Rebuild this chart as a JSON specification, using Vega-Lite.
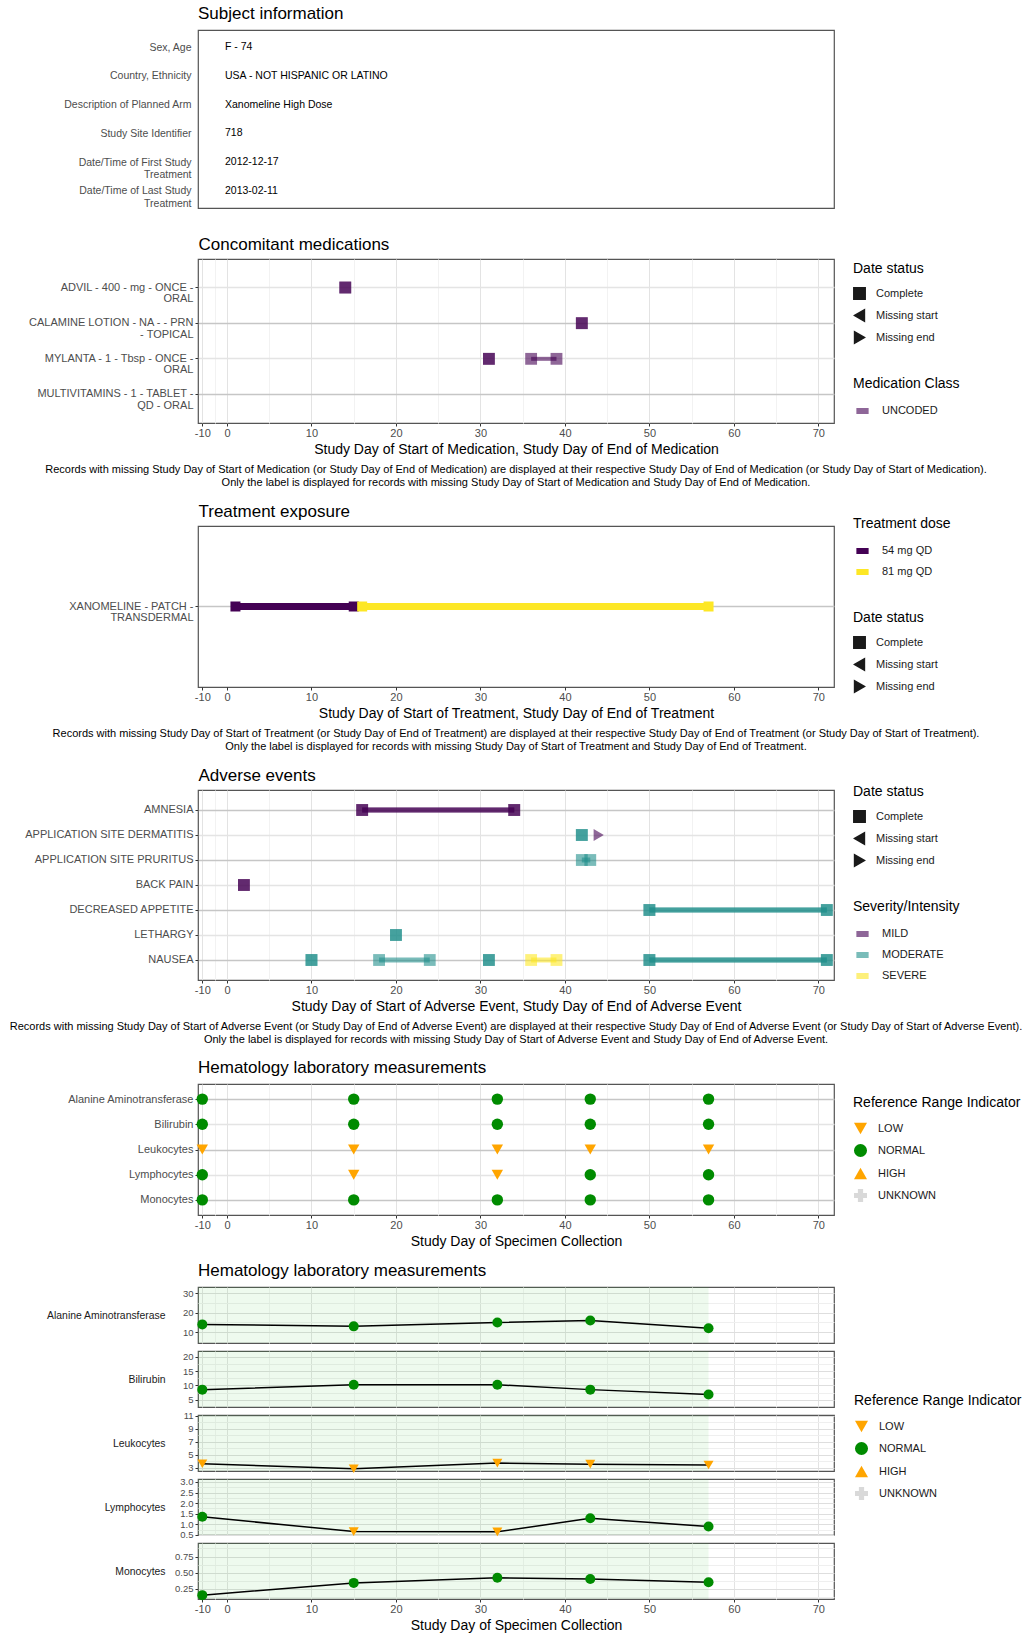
{
"$schema": "https://vega.github.io/schema/vega-lite/v6.json",
"padding": {"left": 5, "top": 4, "right": 0, "bottom": 0},
"spacing": 12,
"config": {
  "font": "Liberation Sans",
  "view": {"stroke": "#555555", "strokeWidth": 1.2},
  "axis": {"labelFontSize": 11, "labelColor": "#4d4d4d", "tickColor": "#333333", "tickSize": 3, "domain": false, "titleFontSize": 14, "titleFontWeight": "normal", "titleColor": "#000000", "gridColor": "#e3e3e3"},
  "title": {"anchor": "start", "frame": "group", "fontSize": 17, "fontWeight": "normal", "offset": 7, "color": "#000000"},
  "legend": {"titleFontSize": 14, "titleFontWeight": "normal", "titleColor": "#000000", "labelFontSize": 11, "labelColor": "#1a1a1a", "offset": 19, "rowPadding": 3, "titlePadding": 11, "labelOffset": 10, "symbolSize": 130, "layout": {"right": {"anchor": "middle", "direction": "vertical", "margin": 30}}}
},
"datasets": {
  "subject": [
    {"label": "Sex, Age", "value": "F - 74"},
    {"label": "Country, Ethnicity", "value": "USA - NOT HISPANIC OR LATINO"},
    {"label": "Description of Planned Arm", "value": "Xanomeline High Dose"},
    {"label": "Study Site Identifier", "value": "718"},
    {"label": "Date/Time of First Study|Treatment", "value": "2012-12-17"},
    {"label": "Date/Time of Last Study|Treatment", "value": "2013-02-11"}
  ],
  "cm": [
    {"med": "ADVIL - 400 - mg - ONCE -|ORAL", "start": 14, "end": 14, "status": "Complete", "class": "UNCODED"},
    {"med": "CALAMINE LOTION - NA - - PRN|- TOPICAL", "start": 42, "end": 42, "status": "Complete", "class": "UNCODED"},
    {"med": "MYLANTA - 1 - Tbsp - ONCE -|ORAL", "start": 31, "end": 31, "status": "Complete", "class": "UNCODED"},
    {"med": "MYLANTA - 1 - Tbsp - ONCE -|ORAL", "start": 36, "end": 39, "status": "Complete", "class": "UNCODED"},
    {"med": "MULTIVITAMINS - 1 - TABLET -|QD - ORAL", "start": null, "end": null, "status": "Complete", "class": "UNCODED"}
  ],
  "trt": [
    {"trt": "XANOMELINE - PATCH -|TRANSDERMAL", "dose": "54 mg QD", "start": 1, "end": 15, "status": "Complete"},
    {"trt": "XANOMELINE - PATCH -|TRANSDERMAL", "dose": "81 mg QD", "start": 16, "end": 57, "status": "Complete"}
  ],
  "ae": [
    {"term": "AMNESIA", "sev": "MILD", "start": 16, "end": 34, "status": "Complete"},
    {"term": "AMNESIA", "sev": "MILD", "start": 16, "end": 34, "status": "Complete"},
    {"term": "APPLICATION SITE DERMATITIS", "sev": "MODERATE", "start": 42, "end": 42, "status": "Complete"},
    {"term": "APPLICATION SITE DERMATITIS", "sev": "MILD", "start": 44, "end": null, "status": "Missing end"},
    {"term": "APPLICATION SITE PRURITUS", "sev": "MODERATE", "start": 42, "end": 43, "status": "Complete"},
    {"term": "BACK PAIN", "sev": "MILD", "start": 2, "end": 2, "status": "Complete"},
    {"term": "DECREASED APPETITE", "sev": "MODERATE", "start": 50, "end": 71, "status": "Complete"},
    {"term": "DECREASED APPETITE", "sev": "MODERATE", "start": 50, "end": 71, "status": "Complete"},
    {"term": "LETHARGY", "sev": "MODERATE", "start": 20, "end": 20, "status": "Complete"},
    {"term": "NAUSEA", "sev": "MODERATE", "start": 10, "end": 10, "status": "Complete"},
    {"term": "NAUSEA", "sev": "MODERATE", "start": 18, "end": 24, "status": "Complete"},
    {"term": "NAUSEA", "sev": "MODERATE", "start": 31, "end": 31, "status": "Complete"},
    {"term": "NAUSEA", "sev": "SEVERE", "start": 36, "end": 39, "status": "Complete"},
    {"term": "NAUSEA", "sev": "MODERATE", "start": 50, "end": 71, "status": "Complete"},
    {"term": "NAUSEA", "sev": "MODERATE", "start": 50, "end": 71, "status": "Complete"}
  ],
  "lab": [
    {"param": "Alanine Aminotransferase", "day": -10, "value": 14, "ind": "NORMAL"},
    {"param": "Alanine Aminotransferase", "day": 15, "value": 13, "ind": "NORMAL"},
    {"param": "Alanine Aminotransferase", "day": 32, "value": 15, "ind": "NORMAL"},
    {"param": "Alanine Aminotransferase", "day": 43, "value": 16, "ind": "NORMAL"},
    {"param": "Alanine Aminotransferase", "day": 57, "value": 12, "ind": "NORMAL"},
    {"param": "Bilirubin", "day": -10, "value": 8.55, "ind": "NORMAL"},
    {"param": "Bilirubin", "day": 15, "value": 10.26, "ind": "NORMAL"},
    {"param": "Bilirubin", "day": 32, "value": 10.26, "ind": "NORMAL"},
    {"param": "Bilirubin", "day": 43, "value": 8.55, "ind": "NORMAL"},
    {"param": "Bilirubin", "day": 57, "value": 6.84, "ind": "NORMAL"},
    {"param": "Leukocytes", "day": -10, "value": 3.62, "ind": "LOW"},
    {"param": "Leukocytes", "day": 15, "value": 2.85, "ind": "LOW"},
    {"param": "Leukocytes", "day": 32, "value": 3.72, "ind": "LOW"},
    {"param": "Leukocytes", "day": 43, "value": 3.55, "ind": "LOW"},
    {"param": "Leukocytes", "day": 57, "value": 3.42, "ind": "LOW"},
    {"param": "Lymphocytes", "day": -10, "value": 1.35, "ind": "NORMAL"},
    {"param": "Lymphocytes", "day": 15, "value": 0.65, "ind": "LOW"},
    {"param": "Lymphocytes", "day": 32, "value": 0.64, "ind": "LOW"},
    {"param": "Lymphocytes", "day": 43, "value": 1.28, "ind": "NORMAL"},
    {"param": "Lymphocytes", "day": 57, "value": 0.89, "ind": "NORMAL"},
    {"param": "Monocytes", "day": -10, "value": 0.15, "ind": "NORMAL"},
    {"param": "Monocytes", "day": 15, "value": 0.34, "ind": "NORMAL"},
    {"param": "Monocytes", "day": 32, "value": 0.42, "ind": "NORMAL"},
    {"param": "Monocytes", "day": 43, "value": 0.40, "ind": "NORMAL"},
    {"param": "Monocytes", "day": 57, "value": 0.35, "ind": "NORMAL"}
  ]
},
"vconcat": [
  {
    "width": 636, "height": 178,
    "title": {"text": "Subject information"},
    "data": {"name": "subject"},
    "mark": {"type": "text", "align": "left", "baseline": "middle", "fontSize": 10.5, "dx": 27, "color": "#000000"},
    "encoding": {
      "y": {"field": "label", "type": "nominal", "sort": null, "scale": {"padding": 0.6}, "axis": {"title": null, "ticks": false, "grid": false, "labelExpr": "split(datum.label, '|')", "labelFontSize": 10.5, "labelPadding": 7, "labelLineHeight": 12.5, "minExtent": 192, "labelLimit": 300}},
      "x": {"datum": 0, "type": "quantitative", "scale": {"domain": [0, 1]}, "axis": {"title": " ", "labels": false, "ticks": false, "grid": false, "titleFontSize": 10, "titlePadding": 3}},
      "text": {"field": "value", "type": "nominal"}
    }
  },
  {
    "width": 636, "height": 164,
    "data": {"name": "cm"},
    "title": {"text": ["Records with missing Study Day of Start of Medication (or Study Day of End of Medication) are displayed at their respective Study Day of End of Medication (or Study Day of Start of Medication).", "Only the label is displayed for records with missing Study Day of Start of Medication and Study Day of End of Medication."], "orient": "bottom", "anchor": "middle", "fontSize": 11, "offset": 8, "lineHeight": 12.5},
    "layer": [
      {
        "transform": [{"fold": ["start", "end"], "as": ["endpoint", "day"]}],
        "mark": {"type": "point", "filled": true, "size": 140, "opacity": 0.6},
        "encoding": {
          "x": {"field": "day", "type": "quantitative", "scale": {"domain": [-11.74, 0, 71.85], "range": [0, 29, 636], "nice": false, "zero": false},
                "axis": {"values": [-10,-5,0,5,10,15,20,25,30,35,40,45,50,55,60,65,70], "tickCount": 40, "labelExpr": "datum.value % 10 === 0 ? toString(datum.value) : ''", "labelFlush": false, "labelOverlap": false, "gridColor": {"condition": {"test": "datum.value % 10 !== 0", "value": "#f2f2f2"}, "value": "#e3e3e3"}, "tickOpacity": {"condition": {"test": "datum.value % 10 !== 0", "value": 0}, "value": 1}, "labelPadding": 1, "titlePadding": 4, "title": "Study Day of Start of Medication, Study Day of End of Medication"}},
          "y": {"field": "med", "type": "nominal", "scale": {"domain": ["ADVIL - 400 - mg - ONCE -|ORAL", "CALAMINE LOTION - NA - - PRN|- TOPICAL", "MYLANTA - 1 - Tbsp - ONCE -|ORAL", "MULTIVITAMINS - 1 - TABLET -|QD - ORAL"], "padding": 0.6},
                "axis": {"title": null, "labelExpr": "split(datum.label, '|')", "labelLineHeight": 11.5, "labelPadding": 2, "minExtent": 192, "labelLimit": 300, "grid": true, "gridWidth": 1.3, "gridColor": {"condition": {"test": "indexof(['CALAMINE LOTION - NA - - PRN|- TOPICAL', 'MULTIVITAMINS - 1 - TABLET -|QD - ORAL'], datum.value) >= 0", "value": "#c6c6c6"}, "value": "#e4e4e4"}}},
          "shape": {"field": "status", "type": "nominal", "scale": {"domain": ["Complete", "Missing start", "Missing end"], "range": ["square", "triangle-left", "triangle-right"]}, "legend": {"title": "Date status", "symbolFillColor": "#1a1a1a", "symbolStrokeColor": "#1a1a1a", "symbolOpacity": 1}},
          "color": {"field": "class", "type": "nominal", "scale": {"domain": ["UNCODED"], "range": ["#440154"]}, "legend": null}
        }
      },
      {
        "transform": [{"filter": "isValid(datum.start) && isValid(datum.end)"}],
        "mark": {"type": "rule", "strokeWidth": 4, "opacity": 0.6},
        "encoding": {
          "x": {"field": "start", "type": "quantitative", "axis": {"orient": "top", "labels": false, "ticks": false, "grid": false, "domain": false, "title": "Concomitant medications", "titleAnchor": "start", "titleAlign": "left", "titleFontSize": 17, "titleColor": "#000000", "titlePadding": 6}},
          "x2": {"field": "end"},
          "y": {"field": "med", "type": "nominal"},
          "stroke": {"field": "class", "type": "nominal", "scale": {"range": ["#440154"]}, "legend": {"title": "Medication Class", "symbolType": "stroke", "symbolStrokeWidth": 6, "symbolSize": 150, "clipHeight": 18}}
        }
      }
    ],
    "resolve": {"axis": {"x": "independent"}}
  },
  {
    "width": 636, "height": 161,
    "data": {"name": "trt"},
    "title": {"text": ["Records with missing Study Day of Start of Treatment (or Study Day of End of Treatment) are displayed at their respective Study Day of End of Treatment (or Study Day of Start of Treatment).", "Only the label is displayed for records with missing Study Day of Start of Treatment and Study Day of End of Treatment."], "orient": "bottom", "anchor": "middle", "fontSize": 11, "offset": 8, "lineHeight": 12.5},
    "layer": [
      {
        "mark": {"type": "rule", "strokeWidth": 7, "opacity": 1},
        "encoding": {
          "x": {"field": "start", "type": "quantitative", "scale": {"domain": [-11.74, 0, 71.85], "range": [0, 29, 636], "nice": false, "zero": false}, "axis": {"orient": "top", "labels": false, "ticks": false, "grid": false, "domain": false, "title": "Treatment exposure", "titleAnchor": "start", "titleAlign": "left", "titleFontSize": 17, "titleColor": "#000000", "titlePadding": 6}},
          "x2": {"field": "end"},
          "y": {"field": "trt", "type": "nominal", "scale": {"padding": 0.6},
                "axis": {"title": null, "labelExpr": "split(datum.label, '|')", "labelLineHeight": 11.5, "labelPadding": 2, "minExtent": 192, "labelLimit": 300, "grid": true, "gridWidth": 1.3, "gridColor": "#c6c6c6"}},
          "color": {"field": "dose", "type": "nominal", "scale": {"domain": ["54 mg QD", "81 mg QD"], "range": ["#440154", "#FDE725"]}, "legend": {"title": "Treatment dose", "symbolType": "stroke", "symbolStrokeWidth": 6, "symbolSize": 150, "clipHeight": 18}}
        }
      },
      {
        "transform": [{"fold": ["start", "end"], "as": ["endpoint", "day"]}],
        "mark": {"type": "point", "filled": true, "size": 100, "opacity": 1},
        "encoding": {
          "x": {"field": "day", "type": "quantitative",
                "axis": {"values": [-10,-5,0,5,10,15,20,25,30,35,40,45,50,55,60,65,70], "tickCount": 40, "labelExpr": "datum.value % 10 === 0 ? toString(datum.value) : ''", "labelFlush": false, "labelOverlap": false, "gridColor": {"condition": {"test": "datum.value % 10 !== 0", "value": "#f2f2f2"}, "value": "#e3e3e3"}, "tickOpacity": {"condition": {"test": "datum.value % 10 !== 0", "value": 0}, "value": 1}, "labelPadding": 1, "titlePadding": 4, "title": "Study Day of Start of Treatment, Study Day of End of Treatment"}},
          "y": {"field": "trt", "type": "nominal"},
          "shape": {"field": "status", "type": "nominal", "scale": {"domain": ["Complete", "Missing start", "Missing end"], "range": ["square", "triangle-left", "triangle-right"]}, "legend": {"title": "Date status", "symbolFillColor": "#1a1a1a", "symbolStrokeColor": "#1a1a1a", "symbolOpacity": 1}},
          "color": {"field": "dose", "type": "nominal", "legend": null}
        }
      }
    ],
    "resolve": {"axis": {"x": "independent"}}
  },
  {
    "width": 636, "height": 190,
    "data": {"name": "ae"},
    "title": {"text": ["Records with missing Study Day of Start of Adverse Event (or Study Day of End of Adverse Event) are displayed at their respective Study Day of End of Adverse Event (or Study Day of Start of Adverse Event).", "Only the label is displayed for records with missing Study Day of Start of Adverse Event and Study Day of End of Adverse Event."], "orient": "bottom", "anchor": "middle", "fontSize": 11, "offset": 8, "lineHeight": 12.5},
    "layer": [
      {
        "transform": [{"fold": ["start", "end"], "as": ["endpoint", "day"]}],
        "mark": {"type": "point", "filled": true, "size": 140, "opacity": 0.6},
        "encoding": {
          "x": {"field": "day", "type": "quantitative", "scale": {"domain": [-11.74, 0, 71.85], "range": [0, 29, 636], "nice": false, "zero": false},
                "axis": {"values": [-10,-5,0,5,10,15,20,25,30,35,40,45,50,55,60,65,70], "tickCount": 40, "labelExpr": "datum.value % 10 === 0 ? toString(datum.value) : ''", "labelFlush": false, "labelOverlap": false, "gridColor": {"condition": {"test": "datum.value % 10 !== 0", "value": "#f2f2f2"}, "value": "#e3e3e3"}, "tickOpacity": {"condition": {"test": "datum.value % 10 !== 0", "value": 0}, "value": 1}, "labelPadding": 1, "titlePadding": 4, "title": "Study Day of Start of Adverse Event, Study Day of End of Adverse Event"}},
          "y": {"field": "term", "type": "nominal", "scale": {"domain": ["AMNESIA", "APPLICATION SITE DERMATITIS", "APPLICATION SITE PRURITUS", "BACK PAIN", "DECREASED APPETITE", "LETHARGY", "NAUSEA"], "padding": 0.6},
                "axis": {"title": null, "labelPadding": 2, "minExtent": 192, "labelLimit": 300, "grid": true, "gridWidth": 1.3, "gridColor": {"condition": {"test": "indexof(['AMNESIA', 'APPLICATION SITE PRURITUS', 'DECREASED APPETITE', 'NAUSEA'], datum.value) >= 0", "value": "#c6c6c6"}, "value": "#e4e4e4"}}},
          "shape": {"field": "status", "type": "nominal", "scale": {"domain": ["Complete", "Missing start", "Missing end"], "range": ["square", "triangle-left", "triangle-right"]}, "legend": {"title": "Date status", "symbolFillColor": "#1a1a1a", "symbolStrokeColor": "#1a1a1a", "symbolOpacity": 1}},
          "color": {"field": "sev", "type": "nominal", "scale": {"domain": ["MILD", "MODERATE", "SEVERE"], "range": ["#440154", "#21908C", "#FDE725"]}, "legend": null}
        }
      },
      {
        "transform": [{"filter": "isValid(datum.start) && isValid(datum.end)"}],
        "mark": {"type": "rule", "strokeWidth": 5, "opacity": 0.6},
        "encoding": {
          "x": {"field": "start", "type": "quantitative", "axis": {"orient": "top", "labels": false, "ticks": false, "grid": false, "domain": false, "title": "Adverse events", "titleAnchor": "start", "titleAlign": "left", "titleFontSize": 17, "titleColor": "#000000", "titlePadding": 6}},
          "x2": {"field": "end"},
          "y": {"field": "term", "type": "nominal"},
          "stroke": {"field": "sev", "type": "nominal", "scale": {"range": ["#440154", "#21908C", "#FDE725"]}, "legend": {"title": "Severity/Intensity", "symbolType": "stroke", "symbolStrokeWidth": 6, "symbolSize": 150, "clipHeight": 18}}
        }
      }
    ],
    "resolve": {"axis": {"x": "independent"}}
  },
  {
    "width": 636, "height": 131,
    "data": {"name": "lab"},
    "title": {"text": "Hematology laboratory measurements"},
    "mark": {"type": "point", "filled": true, "size": 130, "opacity": 1},
    "encoding": {
      "x": {"field": "day", "type": "quantitative", "scale": {"domain": [-11.74, 0, 71.85], "range": [0, 29, 636], "nice": false, "zero": false},
            "axis": {"values": [-10,-5,0,5,10,15,20,25,30,35,40,45,50,55,60,65,70], "tickCount": 40, "labelExpr": "datum.value % 10 === 0 ? toString(datum.value) : ''", "labelFlush": false, "labelOverlap": false, "gridColor": {"condition": {"test": "datum.value % 10 !== 0", "value": "#f2f2f2"}, "value": "#e3e3e3"}, "tickOpacity": {"condition": {"test": "datum.value % 10 !== 0", "value": 0}, "value": 1}, "labelPadding": 1, "titlePadding": 4, "title": "Study Day of Specimen Collection"}},
      "y": {"field": "param", "type": "nominal", "scale": {"domain": ["Alanine Aminotransferase", "Bilirubin", "Leukocytes", "Lymphocytes", "Monocytes"], "padding": 0.6},
            "axis": {"title": null, "labelPadding": 2, "minExtent": 192, "labelLimit": 300, "grid": true, "gridWidth": 1.3, "gridColor": {"condition": {"test": "indexof(['Alanine Aminotransferase', 'Leukocytes', 'Monocytes'], datum.value) >= 0", "value": "#c6c6c6"}, "value": "#e4e4e4"}}},
      "shape": {"field": "ind", "type": "nominal", "scale": {"domain": ["LOW", "NORMAL", "HIGH", "UNKNOWN"], "range": ["triangle-down", "circle", "triangle-up", "cross"]}, "legend": {"title": "Reference Range Indicator", "rowPadding": 8, "symbolSize": 170}},
      "color": {"field": "ind", "type": "nominal", "scale": {"domain": ["LOW", "NORMAL", "HIGH", "UNKNOWN"], "range": ["#FFA500", "#008B00", "#FFA500", "#D9D9D9"]}, "legend": {"title": "Reference Range Indicator", "rowPadding": 8, "symbolSize": 170}}
    }
  },
  {
    "spacing": 8,
    "bounds": "flush",
    "resolve": {"scale": {"y": "independent"}, "axis": {"x": "independent", "y": "independent"}},
    "vconcat": [
      {
        "width": 636, "height": 56,
        "title": {"text": "Hematology laboratory measurements"},
        "data": {"name": "lab"},
        "transform": [{"filter": "datum.param === 'Alanine Aminotransferase'"}],
        "layer": [
          {"transform": [{"aggregate": [{"op": "max", "field": "day", "as": "last"}]}],
           "mark": {"type": "rect", "color": "#22bb22", "opacity": 0.08},
           "encoding": {"x": {"field": "last", "type": "quantitative", "scale": {"domain": [-11.74, 0, 71.85], "range": [0, 29, 636], "nice": false, "zero": false}}, "x2": {"datum": -11.74}}},
          {"mark": {"type": "line", "color": "#000000", "strokeWidth": 1.5},
           "encoding": {"x": {"field": "day", "type": "quantitative"}, "y": {"field": "value", "type": "quantitative"}}},
          {"mark": {"type": "point", "filled": true, "size": 100, "opacity": 1},
           "encoding": {
             "x": {"field": "day", "type": "quantitative", "axis": {"values": [-10,-5,0,5,10,15,20,25,30,35,40,45,50,55,60,65,70], "tickCount": 40, "labels": false, "ticks": false, "title": null, "gridColor": {"condition": {"test": "datum.value % 10 !== 0", "value": "#f2f2f2"}, "value": "#e3e3e3"}}},
             "y": {"field": "value", "type": "quantitative", "scale": {"domain": [4.5, 33.1], "nice": false, "zero": false},
                   "axis": {"values": [10, 15, 20, 25, 30], "tickCount": 40, "format": "d", "labelExpr": "indexof([10, 20, 30], datum.value) >= 0 ? datum.label : ''", "gridColor": {"condition": {"test": "indexof([10, 20, 30], datum.value) >= 0", "value": "#dedede"}, "value": "#efefef"}, "tickOpacity": {"condition": {"test": "indexof([10, 20, 30], datum.value) >= 0", "value": 1}, "value": 0}, "labelFontSize": 9.5, "labelPadding": 2, "labelOverlap": false, "labelFlush": false, "minExtent": 192, "title": "Alanine Aminotransferase", "titleAngle": 0, "titleAlign": "right", "titleBaseline": "middle", "titleX": -33, "titleY": 28, "titleFontSize": 10.4, "titleColor": "#1a1a1a"}},
             "shape": {"field": "ind", "type": "nominal", "scale": {"domain": ["LOW", "NORMAL", "HIGH", "UNKNOWN"], "range": ["triangle-down", "circle", "triangle-up", "cross"]}, "legend": {"title": "Reference Range Indicator", "rowPadding": 8, "symbolSize": 170}},
             "color": {"field": "ind", "type": "nominal", "scale": {"domain": ["LOW", "NORMAL", "HIGH", "UNKNOWN"], "range": ["#FFA500", "#008B00", "#FFA500", "#D9D9D9"]}, "legend": {"title": "Reference Range Indicator", "rowPadding": 8, "symbolSize": 170}}
           }}
        ]
      },
      {
        "width": 636, "height": 56,
        "data": {"name": "lab"},
        "transform": [{"filter": "datum.param === 'Bilirubin'"}],
        "layer": [
          {"transform": [{"aggregate": [{"op": "max", "field": "day", "as": "last"}]}],
           "mark": {"type": "rect", "color": "#22bb22", "opacity": 0.08},
           "encoding": {"x": {"field": "last", "type": "quantitative", "scale": {"domain": [-11.74, 0, 71.85], "range": [0, 29, 636], "nice": false, "zero": false}}, "x2": {"datum": -11.74}}},
          {"mark": {"type": "line", "color": "#000000", "strokeWidth": 1.5},
           "encoding": {"x": {"field": "day", "type": "quantitative"}, "y": {"field": "value", "type": "quantitative"}}},
          {"mark": {"type": "point", "filled": true, "size": 100, "opacity": 1},
           "encoding": {
             "x": {"field": "day", "type": "quantitative", "axis": {"values": [-10,-5,0,5,10,15,20,25,30,35,40,45,50,55,60,65,70], "tickCount": 40, "labels": false, "ticks": false, "title": null, "gridColor": {"condition": {"test": "datum.value % 10 !== 0", "value": "#f2f2f2"}, "value": "#e3e3e3"}}},
             "y": {"field": "value", "type": "quantitative", "scale": {"domain": [2.5, 22], "nice": false, "zero": false},
                   "axis": {"values": [5, 7.5, 10, 12.5, 15, 17.5, 20], "tickCount": 40, "labelExpr": "indexof([5, 10, 15, 20], datum.value) >= 0 ? toString(datum.value) : ''", "gridColor": {"condition": {"test": "indexof([5, 10, 15, 20], datum.value) >= 0", "value": "#dedede"}, "value": "#efefef"}, "tickOpacity": {"condition": {"test": "indexof([5, 10, 15, 20], datum.value) >= 0", "value": 1}, "value": 0}, "labelFontSize": 9.5, "labelPadding": 2, "labelOverlap": false, "labelFlush": false, "minExtent": 192, "title": "Bilirubin", "titleAngle": 0, "titleAlign": "right", "titleBaseline": "middle", "titleX": -33, "titleY": 28, "titleFontSize": 10.4, "titleColor": "#1a1a1a"}},
             "shape": {"field": "ind", "type": "nominal", "scale": {"domain": ["LOW", "NORMAL", "HIGH", "UNKNOWN"], "range": ["triangle-down", "circle", "triangle-up", "cross"]}, "legend": {"title": "Reference Range Indicator", "rowPadding": 8, "symbolSize": 170}},
             "color": {"field": "ind", "type": "nominal", "scale": {"domain": ["LOW", "NORMAL", "HIGH", "UNKNOWN"], "range": ["#FFA500", "#008B00", "#FFA500", "#D9D9D9"]}, "legend": {"title": "Reference Range Indicator", "rowPadding": 8, "symbolSize": 170}}
           }}
        ]
      },
      {
        "width": 636, "height": 56,
        "data": {"name": "lab"},
        "transform": [{"filter": "datum.param === 'Leukocytes'"}],
        "layer": [
          {"transform": [{"aggregate": [{"op": "max", "field": "day", "as": "last"}]}],
           "mark": {"type": "rect", "color": "#22bb22", "opacity": 0.08},
           "encoding": {"x": {"field": "last", "type": "quantitative", "scale": {"domain": [-11.74, 0, 71.85], "range": [0, 29, 636], "nice": false, "zero": false}}, "x2": {"datum": -11.74}}},
          {"mark": {"type": "line", "color": "#000000", "strokeWidth": 1.5},
           "encoding": {"x": {"field": "day", "type": "quantitative"}, "y": {"field": "value", "type": "quantitative"}}},
          {"mark": {"type": "point", "filled": true, "size": 100, "opacity": 1},
           "encoding": {
             "x": {"field": "day", "type": "quantitative", "axis": {"values": [-10,-5,0,5,10,15,20,25,30,35,40,45,50,55,60,65,70], "tickCount": 40, "labels": false, "ticks": false, "title": null, "gridColor": {"condition": {"test": "datum.value % 10 !== 0", "value": "#f2f2f2"}, "value": "#e3e3e3"}}},
             "y": {"field": "value", "type": "quantitative", "scale": {"domain": [2.5, 11.1], "nice": false, "zero": false},
                   "axis": {"values": [3, 4, 5, 6, 7, 8, 9, 10, 11], "tickCount": 40, "format": "d", "labelExpr": "indexof([3, 5, 7, 9, 11], datum.value) >= 0 ? datum.label : ''", "gridColor": {"condition": {"test": "indexof([3, 5, 7, 9, 11], datum.value) >= 0", "value": "#dedede"}, "value": "#efefef"}, "tickOpacity": {"condition": {"test": "indexof([3, 5, 7, 9, 11], datum.value) >= 0", "value": 1}, "value": 0}, "labelFontSize": 9.5, "labelPadding": 2, "labelOverlap": false, "labelFlush": false, "minExtent": 192, "title": "Leukocytes", "titleAngle": 0, "titleAlign": "right", "titleBaseline": "middle", "titleX": -33, "titleY": 28, "titleFontSize": 10.4, "titleColor": "#1a1a1a"}},
             "shape": {"field": "ind", "type": "nominal", "scale": {"domain": ["LOW", "NORMAL", "HIGH", "UNKNOWN"], "range": ["triangle-down", "circle", "triangle-up", "cross"]}, "legend": {"title": "Reference Range Indicator", "rowPadding": 8, "symbolSize": 170}},
             "color": {"field": "ind", "type": "nominal", "scale": {"domain": ["LOW", "NORMAL", "HIGH", "UNKNOWN"], "range": ["#FFA500", "#008B00", "#FFA500", "#D9D9D9"]}, "legend": {"title": "Reference Range Indicator", "rowPadding": 8, "symbolSize": 170}}
           }}
        ]
      },
      {
        "width": 636, "height": 56,
        "data": {"name": "lab"},
        "transform": [{"filter": "datum.param === 'Lymphocytes'"}],
        "layer": [
          {"transform": [{"aggregate": [{"op": "max", "field": "day", "as": "last"}]}],
           "mark": {"type": "rect", "color": "#22bb22", "opacity": 0.08},
           "encoding": {"x": {"field": "last", "type": "quantitative", "scale": {"domain": [-11.74, 0, 71.85], "range": [0, 29, 636], "nice": false, "zero": false}}, "x2": {"datum": -11.74}}},
          {"mark": {"type": "line", "color": "#000000", "strokeWidth": 1.5},
           "encoding": {"x": {"field": "day", "type": "quantitative"}, "y": {"field": "value", "type": "quantitative"}}},
          {"mark": {"type": "point", "filled": true, "size": 100, "opacity": 1},
           "encoding": {
             "x": {"field": "day", "type": "quantitative", "axis": {"values": [-10,-5,0,5,10,15,20,25,30,35,40,45,50,55,60,65,70], "tickCount": 40, "labels": false, "ticks": false, "title": null, "gridColor": {"condition": {"test": "datum.value % 10 !== 0", "value": "#f2f2f2"}, "value": "#e3e3e3"}}},
             "y": {"field": "value", "type": "quantitative", "scale": {"domain": [0.49, 3.14], "nice": false, "zero": false},
                   "axis": {"values": [0.5, 0.75, 1, 1.25, 1.5, 1.75, 2, 2.25, 2.5, 2.75, 3], "tickCount": 40, "format": ".1f", "labelExpr": "indexof([0.5, 1, 1.5, 2, 2.5, 3], datum.value) >= 0 ? datum.label : ''", "gridColor": {"condition": {"test": "indexof([0.5, 1, 1.5, 2, 2.5, 3], datum.value) >= 0", "value": "#dedede"}, "value": "#efefef"}, "tickOpacity": {"condition": {"test": "indexof([0.5, 1, 1.5, 2, 2.5, 3], datum.value) >= 0", "value": 1}, "value": 0}, "labelFontSize": 9.5, "labelPadding": 2, "labelOverlap": false, "labelFlush": false, "minExtent": 192, "title": "Lymphocytes", "titleAngle": 0, "titleAlign": "right", "titleBaseline": "middle", "titleX": -33, "titleY": 28, "titleFontSize": 10.4, "titleColor": "#1a1a1a"}},
             "shape": {"field": "ind", "type": "nominal", "scale": {"domain": ["LOW", "NORMAL", "HIGH", "UNKNOWN"], "range": ["triangle-down", "circle", "triangle-up", "cross"]}, "legend": {"title": "Reference Range Indicator", "rowPadding": 8, "symbolSize": 170}},
             "color": {"field": "ind", "type": "nominal", "scale": {"domain": ["LOW", "NORMAL", "HIGH", "UNKNOWN"], "range": ["#FFA500", "#008B00", "#FFA500", "#D9D9D9"]}, "legend": {"title": "Reference Range Indicator", "rowPadding": 8, "symbolSize": 170}}
           }}
        ]
      },
      {
        "width": 636, "height": 56,
        "data": {"name": "lab"},
        "transform": [{"filter": "datum.param === 'Monocytes'"}],
        "layer": [
          {"transform": [{"aggregate": [{"op": "max", "field": "day", "as": "last"}]}],
           "mark": {"type": "rect", "color": "#22bb22", "opacity": 0.08},
           "encoding": {"x": {"field": "last", "type": "quantitative", "scale": {"domain": [-11.74, 0, 71.85], "range": [0, 29, 636], "nice": false, "zero": false}}, "x2": {"datum": -11.74}}},
          {"mark": {"type": "line", "color": "#000000", "strokeWidth": 1.5},
           "encoding": {"x": {"field": "day", "type": "quantitative"}, "y": {"field": "value", "type": "quantitative"}}},
          {"mark": {"type": "point", "filled": true, "size": 100, "opacity": 1},
           "encoding": {
             "x": {"field": "day", "type": "quantitative", "axis": {"values": [-10,-5,0,5,10,15,20,25,30,35,40,45,50,55,60,65,70], "tickCount": 40, "labelExpr": "datum.value % 10 === 0 ? toString(datum.value) : ''", "labelFlush": false, "labelOverlap": false, "gridColor": {"condition": {"test": "datum.value % 10 !== 0", "value": "#f2f2f2"}, "value": "#e3e3e3"}, "tickOpacity": {"condition": {"test": "datum.value % 10 !== 0", "value": 0}, "value": 1}, "labelPadding": 1, "titlePadding": 4, "title": "Study Day of Specimen Collection"}},
             "y": {"field": "value", "type": "quantitative", "scale": {"domain": [0.09, 0.96], "nice": false, "zero": false},
                   "axis": {"values": [0.125, 0.25, 0.375, 0.5, 0.625, 0.75, 0.875], "tickCount": 40, "format": ".2f", "labelExpr": "indexof([0.25, 0.5, 0.75], datum.value) >= 0 ? datum.label : ''", "gridColor": {"condition": {"test": "indexof([0.25, 0.5, 0.75], datum.value) >= 0", "value": "#dedede"}, "value": "#efefef"}, "tickOpacity": {"condition": {"test": "indexof([0.25, 0.5, 0.75], datum.value) >= 0", "value": 1}, "value": 0}, "labelFontSize": 9.5, "labelPadding": 2, "labelOverlap": false, "labelFlush": false, "minExtent": 192, "title": "Monocytes", "titleAngle": 0, "titleAlign": "right", "titleBaseline": "middle", "titleX": -33, "titleY": 28, "titleFontSize": 10.4, "titleColor": "#1a1a1a"}},
             "shape": {"field": "ind", "type": "nominal", "scale": {"domain": ["LOW", "NORMAL", "HIGH", "UNKNOWN"], "range": ["triangle-down", "circle", "triangle-up", "cross"]}, "legend": {"title": "Reference Range Indicator", "rowPadding": 8, "symbolSize": 170}},
             "color": {"field": "ind", "type": "nominal", "scale": {"domain": ["LOW", "NORMAL", "HIGH", "UNKNOWN"], "range": ["#FFA500", "#008B00", "#FFA500", "#D9D9D9"]}, "legend": {"title": "Reference Range Indicator", "rowPadding": 8, "symbolSize": 170}}
           }}
        ]
      }
    ]
  }
],
"resolve": {"scale": {"x": "independent", "y": "independent", "color": "independent", "shape": "independent", "stroke": "independent"}, "axis": {"x": "independent", "y": "independent"}}
}
